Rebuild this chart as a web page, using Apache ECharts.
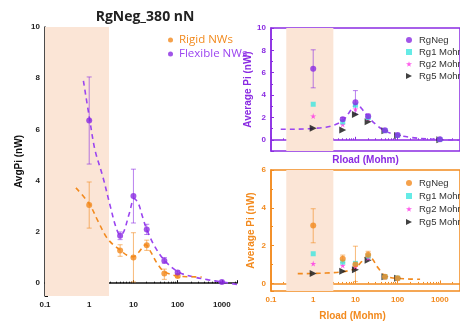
<!DOCTYPE html>
<html>
<head>
<meta charset="utf-8">
<script src="https://cdn.jsdelivr.net/npm/echarts@6/dist/echarts.min.js"></script>
<style>
  html, body { margin: 0; padding: 0; background: #fff; }
  #main { width: 460px; height: 322px; }
</style>
</head>
<body>
<div id="main"></div>
<script>
// ---- data ----
const loadR = [1, 5, 10, 20, 50, 100, 1000]; // Rload (Mohm)
const loadR6 = [1, 5, 10, 20, 50, 100];

// left panel: RgNeg_380 nN
const flexY = [6.35, 1.85, 3.4, 2.1, 0.88, 0.42, 0.05];
const flexLo = [4.65, 1.7, 2.35, 1.9, 0.78, 0.36, 0.02];
const flexHi = [8.05, 2.0, 4.45, 2.3, 1.0, 0.48, 0.08];
const rigidY = [3.05, 1.28, 1.0, 1.48, 0.38, 0.28];
const rigidLo = [2.15, 1.05, 0.05, 1.28, 0.15, 0.22];
const rigidHi = [3.95, 1.5, 1.97, 1.68, 0.55, 0.34];
const flexFitR = [0.74, 1, 1.35, 2, 3, 4, 5, 6, 8, 10.5, 13, 16, 20, 30, 50, 100, 200, 500, 1000, 2200];
const flexFitY = [7.9, 6.5, 5.2, 4.2, 3.0, 2.2, 1.88, 2.0, 2.7, 3.3, 3.1, 2.6, 2.1, 1.45, 0.9, 0.45, 0.27, 0.13, 0.05, -0.05];
const rigidFitR = [0.5, 1, 1.6, 2.45, 3.5, 5, 7, 10, 13, 19, 25, 35, 50, 100, 200, 350];
const rigidFitY = [3.72, 3.1, 2.4, 1.8, 1.5, 1.3, 1.1, 1.03, 1.2, 1.5, 1.2, 0.75, 0.45, 0.28, 0.25, 0.24];

// top right panel (flexible)
const negTop = [6.35, 1.85, 3.35, 2.1, 0.85, 0.42, 0.05];
const negTopLo = [4.65, 1.7, 2.3, 1.9, 0.75, 0.36, 0.02];
const negTopHi = [8.05, 2.0, 4.4, 2.3, 0.95, 0.48, 0.08];
const rg1Top = [3.18, 1.6, 3.1, 2.0, 0.82, 0.4, 0.03];
const rg2Top = [2.12, 1.38, 2.75, 1.95, 0.8, 0.4, 0.03];
const rg5Top = [1.03, 0.88, 2.27, 1.62, 0.82, 0.38, 0.0];
const fitTopR = [0.17, 0.3, 0.6, 1, 2, 3, 5, 7, 9, 11, 14, 20, 30, 50, 100, 200, 500, 1000, 3000];
const fitTopY = [0.95, 0.95, 0.97, 1.02, 1.12, 1.3, 1.7, 2.4, 3.0, 3.2, 2.8, 2.05, 1.4, 0.8, 0.42, 0.22, 0.08, 0.02, -0.04];

// bottom right panel (rigid)
const negBot = [3.07, 1.3, 1.0, 1.52, 0.36, 0.28];
const negBotLo = [2.15, 1.1, 0.1, 1.35, 0.25, 0.22];
const negBotHi = [3.95, 1.5, 1.97, 1.7, 0.45, 0.33];
const rg1Bot = [1.57, 1.13, 1.06, 1.45, 0.35, 0.28];
const rg2Bot = [1.05, 0.95, 0.9, 1.35, 0.34, 0.27];
const rg5Bot = [0.52, 0.65, 0.72, 1.22, 0.35, 0.27];
const fitBotR = [0.43, 0.7, 1, 2, 3, 5, 7, 10, 14, 20, 25, 35, 50, 70, 100, 200, 340];
const fitBotY = [0.52, 0.52, 0.53, 0.55, 0.57, 0.62, 0.68, 0.8, 1.15, 1.45, 1.3, 0.8, 0.4, 0.3, 0.27, 0.23, 0.22];

// ---- styling ----
const PURPLE = "#8a2be2";
const ORANGE = "#f28a1e";
const CYAN = "#3ee6e0";
const MAGENTA = "#ff33e6";
const BLACK = "#111";
const SHADE = "#fbe5d6";
const STAR = "path://M50,0 L61,35 L98,35 L68,57 L79,91 L50,70 L21,91 L32,57 L2,35 L39,35 Z";
const TRI = "path://M0,0 L10,5 L0,10 Z";
const ARIAL = "Liberation Sans";

const pairs = (xs, ys) => xs.map((x, i) => [x, ys[i]]);
const logLabel = (v) => String(Number((+v).toPrecision(6)));

function errSeries(xs, lo, hi, color, gi) {
  return {
    type: "custom",
    xAxisIndex: gi,
    yAxisIndex: gi,
    silent: true,
    z: 3,
    data: xs.map((x, i) => [x, lo[i], hi[i]]),
    encode: { x: 0, y: [1, 2] },
    renderItem(params, api) {
      const x = api.value(0);
      const a = api.coord([x, api.value(1)]);
      const b = api.coord([x, api.value(2)]);
      const c = 2.5;
      const st = { stroke: color, lineWidth: 1, opacity: 0.6 };
      return {
        type: "group",
        children: [
          { type: "line", shape: { x1: a[0], y1: a[1], x2: b[0], y2: b[1] }, style: st },
          { type: "line", shape: { x1: a[0] - c, y1: a[1], x2: a[0] + c, y2: a[1] }, style: st },
          { type: "line", shape: { x1: b[0] - c, y1: b[1], x2: b[0] + c, y2: b[1] }, style: st },
        ],
      };
    },
  };
}

function fitSeries(xs, ys, color, gi, shadeTo, shadeFrom) {
  return {
    type: "line",
    xAxisIndex: gi,
    yAxisIndex: gi,
    data: pairs(xs, ys),
    smooth: 0.35,
    showSymbol: false,
    silent: true,
    z: 2,
    lineStyle: { color: color, width: 1.6, type: [5, 4] },
    markArea: {
      silent: true,
      itemStyle: { color: SHADE },
      data: [[{ xAxis: shadeFrom }, { xAxis: shadeTo }]],
    },
  };
}

function pointSeries(name, xs, ys, color, gi, symbol, size, rotate) {
  return {
    name: name,
    type: "scatter",
    xAxisIndex: gi,
    yAxisIndex: gi,
    data: pairs(xs, ys),
    symbol: symbol,
    symbolSize: size,
    symbolRotate: rotate || 0,
    itemStyle: { color: color },
    z: 4,
  };
}

function xLog(gi, color, max, showLabels, name, nameGap, namePad) {
  return {
    type: "log",
    logBase: 10,
    gridIndex: gi,
    min: 0.1,
    max: max,
    axisLine: { show: true, lineStyle: { color: color, width: 1.5 } },
    axisTick: { inside: true, length: 3, lineStyle: { color: color } },
    minorTick: { show: true, splitNumber: 9, length: 1.5, lineStyle: { color: color } },
    splitLine: { show: false },
    axisLabel: {
      show: showLabels,
      showMaxLabel: false,
      margin: 5,
      fontSize: 8,
      fontWeight: "bold",
      fontFamily: ARIAL,
      color: color === BLACK ? "#222" : color,
      formatter: logLabel,
    },
    name: name,
    nameLocation: "middle",
    nameGap: nameGap,
    nameTextStyle: { color: color, fontSize: 10, fontWeight: "bold", fontFamily: ARIAL, padding: namePad || 0 },
  };
}

function yVal(gi, color, min, max, splitNumber, name, nameGap) {
  return {
    type: "value",
    gridIndex: gi,
    min: min,
    max: max,
    splitNumber: splitNumber,
    axisLine: { show: true, lineStyle: { color: color, width: 1.5 } },
    axisTick: { inside: true, length: 3, lineStyle: { color: color } },
    minorTick: { show: true, splitNumber: 2, length: 2, lineStyle: { color: color } },
    splitLine: { show: false },
    axisLabel: {
      showMinLabel: false,
      margin: 5,
      fontSize: 8,
      fontWeight: "bold",
      fontFamily: ARIAL,
      color: color === BLACK ? "#222" : color,
    },
    name: name,
    nameLocation: "middle",
    nameGap: nameGap,
    nameTextStyle: { color: color, fontSize: 10, fontWeight: "bold", fontFamily: ARIAL },
  };
}

function rightLegend(names, top, gap) {
  return {
    orient: "vertical",
    left: 401,
    top: top,
    itemWidth: 6,
    itemHeight: 6,
    itemGap: gap,
    data: names,
    formatter: (n) => n.split("#")[0],
    textStyle: { fontSize: 9.5, fontFamily: ARIAL, color: "#333", padding: [0, 0, 0, 2] },
    selectedMode: false,
  };
}

const chart = echarts.init(document.getElementById("main"));

const option = {
  animation: false,
  title: {
    text: "RgNeg_380 nN",
    left: 140,
    top: 5,
    textAlign: "center",
    textStyle: { fontFamily: "Open Sans", fontWeight: "bold", fontSize: 14, color: "#222" },
  },
  grid: [
    { left: 45, top: 27, right: 223, bottom: 26 },
    { left: 271, top: 28, right: -9, bottom: 171, show: true, borderColor: PURPLE, borderWidth: 1.5 },
    { left: 271, top: 170, right: -9, bottom: 30, show: true, borderColor: ORANGE, borderWidth: 1.5 },
  ],
  legend: [
    {
      orient: "vertical",
      left: 163,
      top: 29,
      itemWidth: 5,
      itemHeight: 5,
      itemGap: 2,
      selectedMode: false,
      data: [
        { name: "Rigid NWs", icon: "circle", textStyle: { color: ORANGE } },
        { name: "Flexible NWs", icon: "circle", textStyle: { color: "#9b45f0" } },
      ],
      textStyle: { fontFamily: "Open Sans", fontSize: 11.5, padding: [0, 0, 0, 1] },
    },
    rightLegend(
      [
        { name: "RgNeg", icon: "circle" },
        { name: "Rg1 Mohm", icon: "rect" },
        { name: "Rg2 Mohm", icon: STAR },
        { name: "Rg5 Mohm", icon: TRI },
      ],
      30,
      2
    ),
    rightLegend(
      [
        { name: "RgNeg#b", icon: "circle" },
        { name: "Rg1 Mohm#b", icon: "rect" },
        { name: "Rg2 Mohm#b", icon: STAR },
        { name: "Rg5 Mohm#b", icon: TRI },
      ],
      173,
      3
    ),
  ],
  xAxis: [
    xLog(0, BLACK, 2200, true, "", 0),
    xLog(1, PURPLE, 3000, false, "Rload (Mohm)", 4),
    xLog(2, ORANGE, 3000, true, "Rload (Mohm)", 20, [0, 26, 0, 0]),
  ],
  yAxis: [
    yVal(0, BLACK, -0.5, 10, 5, "AvgPi (nW)", 21),
    yVal(1, PURPLE, -1, 10, 5, "Average Pi (nW)", 15),
    yVal(2, ORANGE, -0.4, 6, 3, "Average Pi (nW)", 15),
  ],
  graphic: [
    {
      type: "text",
      left: 72,
      top: 44,
      style: { text: "?", font: "bold 17px 'Open Sans'", fill: "#111" },
    },
  ],
  series: [
    // left panel
    fitSeries(flexFitR, flexFitY, "#9b45f0", 0, 2.8, 0.1),
    fitSeries(rigidFitR, rigidFitY, ORANGE, 0, 2.8, 0.1),
    errSeries(loadR, flexLo, flexHi, PURPLE, 0),
    errSeries(loadR6, rigidLo, rigidHi, ORANGE, 0),
    pointSeries("Rigid NWs", loadR6, rigidY, ORANGE, 0, "circle", 6),
    pointSeries("Flexible NWs", loadR, flexY, PURPLE, 0, "circle", 6),
    // top right panel
    fitSeries(fitTopR, fitTopY, "#9b45f0", 1, 3, 0.23),
    errSeries(loadR, negTopLo, negTopHi, PURPLE, 1),
    pointSeries("Rg5 Mohm", loadR, rg5Top, BLACK, 1, TRI, 7),
    pointSeries("Rg2 Mohm", loadR, rg2Top, MAGENTA, 1, STAR, 6),
    pointSeries("Rg1 Mohm", loadR, rg1Top, CYAN, 1, "rect", 5),
    pointSeries("RgNeg", loadR, negTop, PURPLE, 1, "circle", 6),
    // bottom right panel
    fitSeries(fitBotR, fitBotY, ORANGE, 2, 3, 0.23),
    errSeries(loadR6, negBotLo, negBotHi, ORANGE, 2),
    pointSeries("Rg5 Mohm#b", loadR6, rg5Bot, BLACK, 2, TRI, 7),
    pointSeries("Rg2 Mohm#b", loadR6, rg2Bot, MAGENTA, 2, STAR, 6),
    pointSeries("Rg1 Mohm#b", loadR6, rg1Bot, CYAN, 2, "rect", 5),
    pointSeries("RgNeg#b", loadR6, negBot, ORANGE, 2, "circle", 6),
  ],
};

chart.setOption(option);
</script>
</body>
</html>
